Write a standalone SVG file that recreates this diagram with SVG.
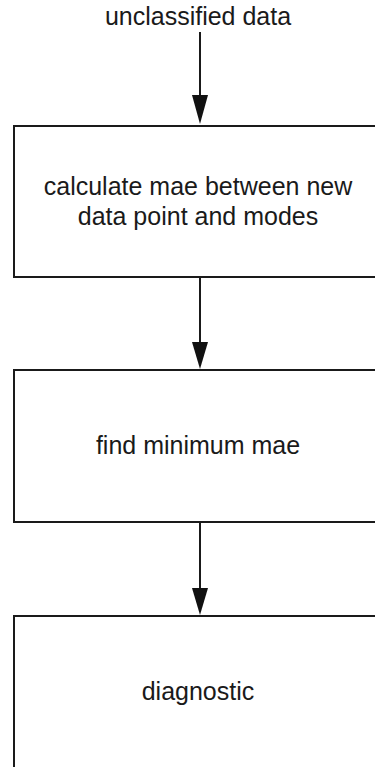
<svg xmlns="http://www.w3.org/2000/svg" width="375" height="767" viewBox="0 0 375 767">
<style>
.box{fill:#ffffff;stroke:#1a1a1a;stroke-width:2}
.lbl{font-family:"Liberation Sans",Arial,Helvetica,sans-serif;font-size:25px;fill:#1a1a1a;text-anchor:middle}
.edge{stroke:#1a1a1a;stroke-width:2;fill:none}
</style>
<defs>
<marker id="ah" markerWidth="16" markerHeight="28" refX="16" refY="8" orient="auto" markerUnits="userSpaceOnUse" viewBox="0 0 28 16">
<path d="M0,0 L28,8 L0,16 Z" fill="#111111"/>
</marker>
</defs>
<rect width="375" height="767" fill="#ffffff"/>
<g id="n0">
<text class="lbl" x="198" y="25">unclassified data</text>
</g>
<g id="n1">
<rect class="box" x="14" y="126" width="372" height="151"/>
<text class="lbl" x="198" y="195">calculate mae between new</text>
<text class="lbl" x="198" y="225">data point and modes</text>
</g>
<g id="n2">
<rect class="box" x="14" y="370" width="372" height="152"/>
<text class="lbl" x="198" y="454">find minimum mae</text>
</g>
<g id="n3">
<rect class="box" x="14" y="616" width="372" height="170"/>
<text class="lbl" x="198" y="700">diagnostic</text>
</g>
<g id="connectors">
<path class="edge" d="M200,32 L200,95"/>
<path d="M192,95 L208,95 L200,124 Z" fill="#111111"/>
<path class="edge" d="M200,277 L200,342"/>
<path d="M192,342 L208,342 L200,369 Z" fill="#111111"/>
<path class="edge" d="M200,523 L200,588"/>
<path d="M192,588 L208,588 L200,615 Z" fill="#111111"/>
</g>
</svg>
